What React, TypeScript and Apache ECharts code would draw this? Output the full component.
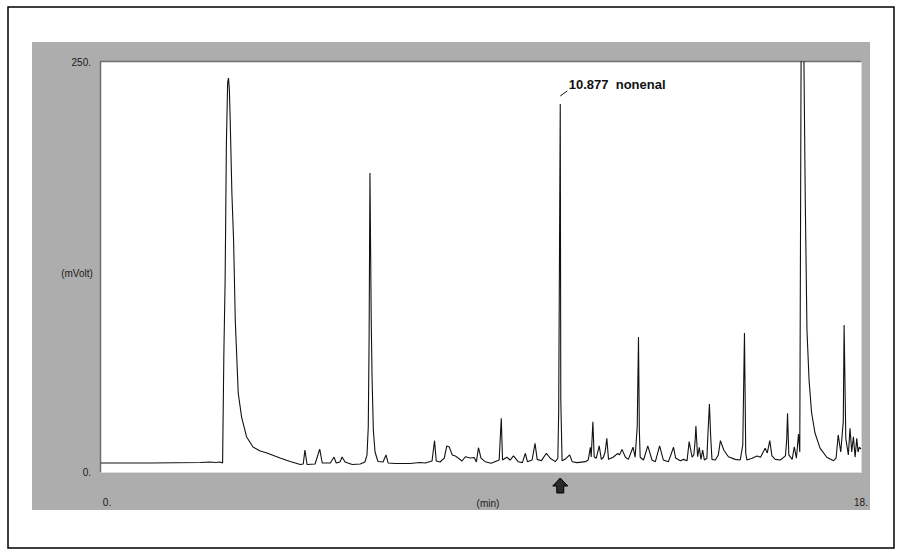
import React, { useEffect, useRef } from 'react';
import * as echarts from 'echarts';

// Chromatogram trace: retention time (min) and signal (mV)
const timeMin = [
  0, 1.16, 2.35, 2.58, 2.72, 2.82, 2.88, 2.91, 2.94, 2.97, 3.0, 3.02, 3.04, 3.06, 3.1, 3.14, 3.18, 3.25, 3.33, 3.45,
  3.6, 3.77, 3.93, 4.24, 4.48, 4.72, 4.79, 4.83, 4.88, 5.07, 5.18, 5.24, 5.43, 5.52, 5.57, 5.66, 5.71, 5.78, 5.95, 6.14,
  6.25, 6.3, 6.33, 6.35, 6.37, 6.4, 6.42, 6.45, 6.49, 6.56, 6.68, 6.75, 6.8, 6.97, 7.32, 7.56, 7.68, 7.84, 7.9, 7.94,
  8.03, 8.13, 8.19, 8.25, 8.32, 8.39, 8.46, 8.55, 8.63, 8.74, 8.84, 8.89, 8.94, 9.0, 9.1, 9.24, 9.43, 9.48, 9.51, 9.61,
  9.69, 9.77, 9.88, 9.98, 10.05, 10.1, 10.21, 10.28, 10.33, 10.43, 10.55, 10.64, 10.76, 10.82, 10.84, 10.877, 10.89, 10.92, 10.99, 11.1,
  11.16, 11.28, 11.47, 11.54, 11.59, 11.61, 11.65, 11.68, 11.73, 11.8, 11.85, 11.9, 11.94, 11.98, 12.02, 12.13, 12.24, 12.28, 12.34, 12.42,
  12.49, 12.6, 12.65, 12.7, 12.73, 12.75, 12.77, 12.85, 12.95, 13.05, 13.13, 13.23, 13.32, 13.44, 13.56, 13.61, 13.72, 13.8, 13.88, 13.93,
  14.0, 14.04, 14.07, 14.09, 14.13, 14.17, 14.21, 14.25, 14.29, 14.35, 14.37, 14.41, 14.44, 14.47, 14.55, 14.62, 14.67, 14.75, 14.86, 15.02,
  15.14, 15.2, 15.24, 15.27, 15.3, 15.42, 15.54, 15.62, 15.73, 15.78, 15.84, 15.89, 15.97, 16.09, 16.21, 16.24, 16.26, 16.29, 16.37, 16.42,
  16.47, 16.52, 16.55, 16.57, 16.6, 16.63, 16.68, 16.72, 16.77, 16.83, 16.91, 17.03, 17.19, 17.35, 17.41, 17.46, 17.52, 17.58, 17.6, 17.64,
  17.7, 17.74, 17.78, 17.82, 17.86, 17.9, 17.93, 17.96, 18.0,
];
const signalMv = [
  5.5, 5.5, 5.8, 6.1, 5.8, 6.1, 5.5, 72.6, 117, 200.6, 237.8, 240.2, 233, 214.6, 170, 141.5, 92.7, 48.2, 33.5, 21.3,
  15.2, 12.8, 11.6, 8.5, 6.4, 4.6, 4.9, 13.4, 4.6, 4.9, 14, 5.5, 5.5, 9.1, 5.5, 6.1, 9.1, 6.1, 4.6, 4.9,
  6.1, 10.4, 27.4, 82.3, 182.3, 92.7, 57.3, 25.6, 12.2, 6.4, 6.1, 10.4, 5.5, 5.2, 5.2, 5.8, 5.5, 6.7, 19.1, 6.7,
  6.1, 8.5, 15.9, 15.2, 10.4, 9.8, 8.5, 6.7, 9.3, 8.5, 8.8, 6.1, 14.8, 8.5, 6.3, 5.3, 7.3, 32.7, 7.3, 9.0,
  7.3, 9.8, 6.3, 5.7, 11.4, 6.3, 7.3, 17.5, 7.7, 6.9, 11.4, 8.4, 6.3, 8.4, 36.8, 224.4, 43.9, 6.9, 7.7, 10.4,
  6.3, 5.7, 6.3, 7.3, 15.1, 9.1, 30.7, 9.3, 8.4, 15.9, 7.7, 9.0, 12.2, 20.5, 7.7, 9.0, 11.4, 10.4, 13.8, 9.0,
  7.7, 15.1, 9.0, 27.6, 82.3, 25.6, 9.0, 7.3, 15.9, 7.3, 6.3, 15.9, 7.3, 6.3, 15.1, 8.5, 6.9, 7.7, 6.9, 18.5,
  9.0, 10.4, 18.5, 28.0, 9.3, 15.1, 7.7, 13.4, 7.3, 8.4, 20.7, 41.5, 21.5, 7.7, 7.3, 10.4, 19.1, 13.4, 9.3, 7.7,
  7.3, 16.5, 84.8, 11.4, 7.3, 8.4, 9.8, 9.0, 14.5, 11.6, 19.1, 9.8, 7.7, 7.3, 9.8, 19.5, 35.8, 10.4, 7.7, 15.4,
  8.4, 23.2, 12.2, 166, 400, 300, 166, 86.6, 56, 36, 23.8, 14.6, 9.0, 6.9, 8.5, 22.6, 12.2, 30.7, 89.6, 20.5,
  10.4, 26.6, 12.2, 21.5, 9.1, 20.5, 12.2, 15.1, 14,
];

const xRange = [0, 18];
const yRange = [0, 250];
const xTickLabels = ['0.', '18.'];
const yTickLabels = ['0.', '250.'];
const xAxisName = '(min)';
const yAxisName = '(mVolt)';
const peakTime = 10.877;
const peakValue = 224.4;
const peakText = '10.877  nonenal';

export default function App() {
  const ref = useRef<HTMLDivElement>(null);

  useEffect(() => {
    document.body.style.margin = '0';
    const chart = echarts.init(ref.current as HTMLDivElement, null, { renderer: 'svg' });
    const font = "'Liberation Sans', Arial, sans-serif";
    const textColor = '#1a1a1a';

    const background: any[] = [
      { type: 'rect', z: 0, shape: { x: 8, y: 7, width: 886, height: 541 }, style: { fill: '#ffffff', stroke: '#000000', lineWidth: 1.5 } },
      { type: 'rect', z: 0, shape: { x: 32, y: 42, width: 838, height: 468 }, style: { fill: '#adadad' } },
      { type: 'rect', z: 0, shape: { x: 101, y: 62, width: 760, height: 410 }, style: { fill: '#ffffff' } },
      { type: 'line', z: 1, shape: { x1: 100, y1: 61.5, x2: 861, y2: 61.5 }, style: { stroke: '#6e6e6e', lineWidth: 1.5 } },
      { type: 'line', z: 1, shape: { x1: 100.5, y1: 61, x2: 100.5, y2: 472 }, style: { stroke: '#6e6e6e', lineWidth: 1.5 } },
      { type: 'line', z: 1, shape: { x1: 861.5, y1: 62, x2: 861.5, y2: 473 }, style: { stroke: '#dcdcdc', lineWidth: 1 } },
      { type: 'line', z: 1, shape: { x1: 101, y1: 472.5, x2: 862, y2: 472.5 }, style: { stroke: '#dcdcdc', lineWidth: 1 } },
      { type: 'text', z: 10, x: 77, y: 273, style: { text: yAxisName, font: `10px ${font}`, fill: textColor, align: 'center', verticalAlign: 'middle' } },
      { type: 'text', z: 10, x: 488, y: 503, style: { text: xAxisName, font: `10px ${font}`, fill: textColor, align: 'center', verticalAlign: 'middle' } },
    ];

    const option: any = {
      animation: false,
      backgroundColor: '#ffffff',
      grid: { left: 101, top: 62, width: 760, height: 410, containLabel: false },
      xAxis: {
        type: 'value',
        min: xRange[0],
        max: xRange[1],
        interval: xRange[1] - xRange[0],
        z: 5,
        axisLine: { show: false },
        axisTick: { show: false },
        splitLine: { show: false },
        axisLabel: {
          margin: 25,
          fontSize: 10,
          fontFamily: font,
          color: textColor,
          formatter: (v: number) => (v === xRange[0] ? `{l|${xTickLabels[0]}}` : `{r|${xTickLabels[1]}}`),
          rich: {
            l: { fontSize: 10, fontFamily: font, color: textColor, padding: [0, 0, 0, 12] },
            r: { fontSize: 10, fontFamily: font, color: textColor },
          },
        },
      },
      yAxis: {
        type: 'value',
        min: yRange[0],
        max: yRange[1],
        interval: yRange[1] - yRange[0],
        z: 5,
        axisLine: { show: false },
        axisTick: { show: false },
        splitLine: { show: false },
        axisLabel: {
          margin: 10,
          fontSize: 10,
          fontFamily: font,
          color: textColor,
          padding: [0, 0, 5, 0],
          formatter: (v: number) => (v === yRange[0] ? yTickLabels[0] : yTickLabels[1]),
        },
      },
      series: [
        {
          type: 'line',
          z: 6,
          data: timeMin.map((t, i) => [t, signalMv[i]]),
          showSymbol: false,
          symbol: 'none',
          clip: true,
          lineStyle: { color: '#111111', width: 1.1 },
          silent: true,
        },
      ],
      graphic: background,
    };

    chart.setOption(option);

    const [px, py] = chart.convertToPixel({ gridIndex: 0 }, [peakTime, peakValue]) as number[];
    const [, by] = chart.convertToPixel({ gridIndex: 0 }, [peakTime, yRange[0]]) as number[];

    const annotations: any[] = [
      { type: 'line', z: 10, shape: { x1: px, y1: py - 8, x2: px + 7, y2: py - 13 }, style: { stroke: '#111', lineWidth: 1 } },
      { type: 'text', z: 10, x: px + 8.5, y: py - 19, style: { text: peakText, font: `bold 13px ${font}`, fill: '#111', align: 'left', verticalAlign: 'middle' } },
      {
        type: 'polygon',
        z: 10,
        shape: {
          points: [
            [px, by + 6],
            [px + 7.5, by + 14],
            [px + 3.5, by + 14],
            [px + 3.5, by + 21],
            [px - 3.5, by + 21],
            [px - 3.5, by + 14],
            [px - 7.5, by + 14],
          ],
        },
        style: { fill: '#2a2a2a', stroke: '#000', lineWidth: 1 },
      },
    ];

    chart.setOption({ graphic: [...background, ...annotations] });

    return () => chart.dispose();
  }, []);

  return <div ref={ref} style={{ width: 901, height: 556 }} />;
}
